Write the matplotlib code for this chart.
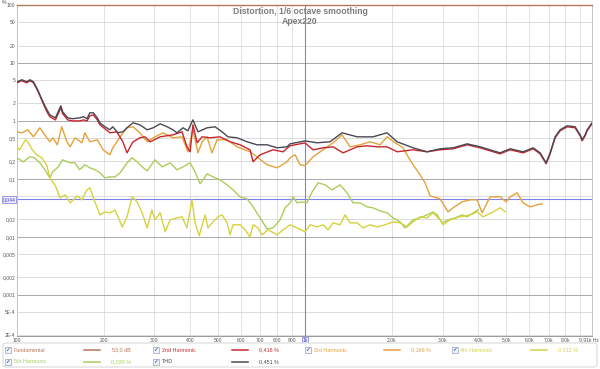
import matplotlib
matplotlib.use("Agg")
import matplotlib.pyplot as plt
import matplotlib.transforms as mtransforms
from matplotlib.patches import FancyBboxPatch, Rectangle
from matplotlib.lines import Line2D

plt.rcParams["font.family"] = ["Liberation Sans", "DejaVu Sans"]

# ── Data (frequency in Hz, distortion in % of fundamental) ───────────────────

fund_f = [100, 9910]
fund_v = [100.0, 100.0]

thd_f = [100, 104, 108, 111, 114, 118, 123, 127, 130, 136, 139, 142, 144, 150, 156, 165, 170, 175, 179, 184,
         190, 194, 202, 210, 215, 224, 233, 243, 253, 267, 283, 297, 314, 332, 348, 359, 377, 392, 408, 425,
         457, 487, 515, 540, 581, 629, 681, 738, 800, 866, 887, 1000, 1101, 1221, 1344, 1516, 1722, 1926, 2087, 2371,
         2652, 2943, 3265, 3652, 4052, 4754, 5150, 5714, 6190, 6546, 6868, 7091, 7380, 7681, 8124, 8659, 9013, 9158, 9381, 9532,
         9910]
thd_v = [4.73, 5.13, 4.73, 5.13, 4.73, 3.44, 2.14, 1.56, 1.27, 1.13, 1.44, 1.82, 1.44, 1.13, 1.09, 1.13, 1.18, 1.09, 1.38, 1.38,
         1.13, 0.927, 0.791, 0.702, 0.791, 0.623, 0.648, 0.791, 0.927, 0.856, 0.702, 0.760, 0.891, 0.791, 0.702, 0.623, 0.760, 0.675, 1.04, 0.648,
         0.760, 0.791, 0.648, 0.531, 0.511, 0.436, 0.387, 0.387, 0.343, 0.357, 0.402, 0.451, 0.419, 0.436, 0.623, 0.531, 0.531, 0.623, 0.436, 0.343,
         0.293, 0.330, 0.343, 0.402, 0.357, 0.281, 0.330, 0.293, 0.343, 0.281, 0.189, 0.281, 0.531, 0.702, 0.823, 0.791, 0.575, 0.472, 0.575, 0.702,
         0.927]

h2_f = [100, 104, 108, 111, 114, 118, 123, 127, 130, 136, 139, 142, 144, 150, 156, 165, 170, 175, 179, 184,
        190, 194, 202, 210, 222, 233, 241, 247, 253, 267, 278, 290, 314, 348, 374, 389, 399, 408, 422, 439,
        468, 507, 549, 595, 644, 660, 698, 774, 839, 887, 961, 1000, 1066, 1155, 1251, 1355, 1516, 1642, 1778, 1926,
        2087, 2371, 2652, 2943, 3265, 3652, 4052, 4754, 5150, 5714, 6190, 6546, 6868, 7091, 7380, 7681, 8124, 8659, 9013, 9158,
        9381, 9532, 9910]
h2_v = [4.55, 4.93, 4.55, 4.93, 4.55, 3.31, 2.05, 1.44, 1.18, 1.04, 1.33, 1.68, 1.33, 1.04, 1.00, 1.00, 1.04, 1.00, 1.22, 1.27,
        1.04, 0.856, 0.730, 0.623, 0.648, 0.436, 0.281, 0.357, 0.436, 0.511, 0.531, 0.436, 0.531, 0.575, 0.648, 0.357, 0.293, 0.856, 0.419, 0.531,
        0.511, 0.531, 0.436, 0.387, 0.317, 0.197, 0.260, 0.317, 0.293, 0.372, 0.402, 0.416, 0.317, 0.343, 0.357, 0.281, 0.357, 0.372, 0.357, 0.357,
        0.293, 0.317, 0.293, 0.317, 0.330, 0.387, 0.343, 0.270, 0.317, 0.281, 0.330, 0.270, 0.182, 0.270, 0.511, 0.675, 0.791, 0.760, 0.553, 0.453,
        0.553, 0.675, 0.891]

h3_f = [100, 104, 109, 114, 120, 127, 130, 133, 138, 143, 149, 153, 159, 168, 172, 179, 190, 199, 210, 215,
        228, 241, 253, 267, 283, 297, 321, 348, 374, 392, 408, 425, 439, 457, 475, 495, 536, 581, 644, 681,
        738, 800, 866, 887, 923, 961, 1000, 1066, 1155, 1251, 1344, 1433, 1552, 1682, 1822, 1926, 2054, 2189, 2279, 2371,
        2508, 2610, 2717, 2943, 3137, 3265, 3509, 3741, 3956, 4117, 4389, 4754, 4988, 5150, 5447, 5714, 6043, 6391, 6652]
h3_v = [0.648, 0.623, 0.702, 0.531, 0.760, 0.511, 0.436, 0.511, 0.387, 0.791, 0.436, 0.357, 0.511, 0.419, 0.623, 0.436, 0.472, 0.317, 0.260, 0.343,
        0.531, 0.760, 0.791, 0.623, 0.436, 0.511, 0.623, 0.511, 0.531, 0.293, 0.702, 0.281, 0.436, 0.531, 0.281, 0.472, 0.472, 0.357, 0.293, 0.240,
        0.175, 0.155, 0.197, 0.231, 0.260, 0.175, 0.169, 0.240, 0.317, 0.419, 0.575, 0.357, 0.387, 0.436, 0.387, 0.531, 0.419, 0.343, 0.240, 0.175,
        0.117, 0.0853, 0.0509, 0.0451, 0.0269, 0.0316, 0.0401, 0.0434, 0.0434, 0.0259, 0.0489, 0.0489, 0.0401, 0.0489, 0.0573, 0.0385, 0.0328, 0.0356, 0.0370]

h4_f = [100, 102, 107, 109, 113, 117, 122, 127, 130, 136, 141, 147, 153, 162, 168, 175, 179, 187, 194, 202,
        210, 219, 232, 241, 251, 261, 272, 283, 294, 301, 314, 327, 340, 359, 374, 389, 405, 415, 429, 450,
        460, 479, 499, 515, 536, 549, 562, 595, 619, 644, 660, 687, 709, 744, 800, 839, 887, 938, 1000, 1041,
        1101, 1155, 1202, 1251, 1323, 1377, 1433, 1516, 1590, 1682, 1778, 1896, 2021, 2137, 2260, 2371, 2508, 2652, 2783, 2943,
        3014, 3188, 3453, 3741, 3956, 4150, 4496, 4754, 4948]
h4_v = [0.357, 0.317, 0.472, 0.436, 0.317, 0.260, 0.231, 0.168, 0.104, 0.0757, 0.0470, 0.0529, 0.0385, 0.0509, 0.0434, 0.0646, 0.0699, 0.0385, 0.0239, 0.0269,
        0.0259, 0.0291, 0.0148, 0.0221, 0.0489, 0.0401, 0.0259, 0.0142, 0.0291, 0.0196, 0.0259, 0.0122, 0.0196, 0.0212, 0.0221, 0.0142, 0.0434, 0.0174, 0.0104, 0.0239,
        0.0142, 0.0181, 0.0221, 0.0239, 0.0174, 0.0108, 0.0161, 0.0161, 0.0132, 0.00996, 0.0161, 0.0142, 0.0108, 0.0132, 0.0108, 0.0132, 0.0161, 0.0142, 0.0122, 0.0161,
        0.0148, 0.0161, 0.0132, 0.0174, 0.0161, 0.0239, 0.0174, 0.0174, 0.0142, 0.0161, 0.0148, 0.0161, 0.0181, 0.0174, 0.0148, 0.0181, 0.0221, 0.0212, 0.0259, 0.0196,
        0.0161, 0.0196, 0.0221, 0.0239, 0.0269, 0.0221, 0.0269, 0.0316, 0.0269]

h5_f = [100, 105, 111, 115, 120, 125, 130, 133, 139, 144, 153, 159, 165, 172, 179, 187, 194, 202, 210, 219,
        228, 241, 251, 261, 272, 283, 301, 319, 340, 359, 377, 399, 415, 432, 457, 479, 507, 536, 562, 595,
        629, 660, 698, 738, 774, 819, 852, 887, 909, 938, 976, 1016, 1058, 1110, 1174, 1241, 1323, 1399, 1468, 1552,
        1642, 1722, 1822, 1926, 2021, 2137, 2224, 2371, 2508, 2652, 2783, 2873, 2990, 3137, 3318, 3509, 3652, 3831, 3988]
h5_v = [0.231, 0.197, 0.240, 0.231, 0.189, 0.143, 0.104, 0.132, 0.161, 0.213, 0.189, 0.189, 0.143, 0.175, 0.155, 0.143, 0.127, 0.104, 0.108, 0.108,
        0.127, 0.189, 0.231, 0.197, 0.161, 0.137, 0.213, 0.161, 0.189, 0.143, 0.161, 0.189, 0.132, 0.0820, 0.122, 0.108, 0.0961, 0.0788, 0.0646, 0.0489,
        0.0451, 0.0328, 0.0212, 0.0137, 0.0142, 0.0196, 0.0316, 0.0385, 0.0489, 0.0385, 0.0401, 0.0390, 0.0596, 0.0853, 0.0788, 0.0646, 0.0788, 0.0573, 0.0385, 0.0385,
        0.0328, 0.0316, 0.0280, 0.0259, 0.0212, 0.0181, 0.0142, 0.0196, 0.0212, 0.0239, 0.0269, 0.0239, 0.0174, 0.0196, 0.0212, 0.0239, 0.0221, 0.0259, 0.0291]

# legend entries: name, readout at cursor, colour
LEG_NAMES = ["Fundamental", "2nd Harmonic", "3rd Harmonic", "4th Harmonic", "5th Harmonic", "THD"]
LEG_VALUES = ["53,0 dB", "0,416 %", "0,169 %", "0,012 %", "0,039 %", "0,451 %"]
COLORS = ["#b5775a", "#c8262c", "#e4a23a", "#d6d23e", "#abcd5c", "#4a4852"]

Y_TICKS = [100, 50, 20, 10, 5, 2, 1, 0.5, 0.2, 0.1, 0.02, 0.01, 0.005, 0.002, 0.001, 5e-4, 2e-4]
Y_LABELS = ["100", "50", "20", "10", "5", "2", "1", "0,5", "0,2", "0,1", "0,02", "0,01",
            "0,005", "0,002", "0,001", "5E-4", "2E-4"]
X_TICKS = [100, 200, 300, 400, 500, 600, 700, 800, 900, 2000, 3000, 4000, 5000, 6000, 7000, 8000]
X_LABELS = ["100", "200", "300", "400", "500", "600", "700", "800", "900",
            "2,0k", "3,0k", "4,0k", "5,0k", "6,0k", "7,0k", "8,0k"]
CURSOR_F = 1000
CURSOR_V = 0.044

# ── Figure ───────────────────────────────────────────────────────────────────
W, H = 600, 369
fig = plt.figure(figsize=(W / 100, H / 100), dpi=100)
ax = fig.add_axes([17 / W, 1 - 336 / H, 575 / W, 331 / H])
ax.set_xscale("log")
ax.set_yscale("log")
ax.set_xlim(100, 9910)
ax.set_ylim(1.94e-4, 100)

# grid
for f in list(range(100, 1000, 100)) + list(range(1000, 10000, 1000)):
    ax.axvline(f, color="#dcdcdc", lw=0.6, zorder=0)
for v in [10, 1, 0.1, 0.01, 0.001]:
    ax.axhline(v, color="#a9a9a9", lw=0.7, zorder=0)
for v in [50, 20, 5, 2, 0.5, 0.2, 0.05, 0.02, 0.005, 0.002, 5e-4, 2e-4]:
    ax.axhline(v, color="#d6d6d6", lw=0.6, zorder=0)

# cursors
ax.axvline(CURSOR_F, color="#8080e6", lw=0.8, zorder=1)
ax.axhline(CURSOR_V, color="#8080e6", lw=0.8, zorder=1)

# curves
series = [(h5_f, h5_v, 4), (h4_f, h4_v, 3), (h3_f, h3_v, 2), (h2_f, h2_v, 1), (thd_f, thd_v, 5)]
for fx, vy, ci in series:
    ax.plot(fx, vy, color=COLORS[ci], lw=1.0, zorder=3)
ax.plot(fund_f, fund_v, color=COLORS[0], lw=1.0, zorder=4, clip_on=False)

ax.minorticks_off()
ax.set_yticks(Y_TICKS, Y_LABELS)
ax.set_xticks(X_TICKS, X_LABELS)
ax.tick_params(length=0, labelsize=3.6, colors="#555555", pad=1.2)
for s in ax.spines.values():
    s.set_color("#c4c4c4")
    s.set_linewidth(0.7)
ax.spines["bottom"].set_color("#9a9a9a")

# axis extras
fig.text(4 / W, 1 - 2 / H, "%", fontsize=3.8, color="#555555", ha="center", va="center")
ax.text(599 / W, 1.94e-4, "9,91k Hz", fontsize=3.6, color="#555555", ha="right", va="top",
        transform=mtransforms.offset_copy(
            mtransforms.blended_transform_factory(fig.transFigure, ax.transData),
            fig, y=-1.2, units="points"))
box = dict(boxstyle="square,pad=0.15", fc="#eef0ff", ec="#7474e0", lw=0.5)
ax.text(CURSOR_F, 1.94e-4, "1k", fontsize=3.6, color="#4040c0", ha="center", va="top", bbox=box,
        transform=mtransforms.offset_copy(ax.transData, fig, y=-1.2, units="points"))
ax.text(15.5 / W, CURSOR_V, "0,044", fontsize=3.6, color="#4040c0", ha="right", va="center", bbox=box,
        transform=mtransforms.blended_transform_factory(fig.transFigure, ax.transData))

# title
fig.text(0.5, 1 - 11 / H, "Distortion, 1/6 octave smoothing", fontsize=6.2, color="#7c7c7c",
         weight="bold", ha="center", va="center")
fig.text(0.5, 1 - 21 / H, "Apex220", fontsize=6.2, color="#7c7c7c", weight="bold",
         ha="center", va="center")

# legend panel
fig.patches.append(FancyBboxPatch((3 / W, 1 - 367 / H), 594 / W, 24 / H,
                                  boxstyle="round,pad=0,rounding_size=0.006",
                                  transform=fig.transFigure, fc="white", ec="#cfcfcf", lw=0.6))
col_x = [5, 153, 305, 452]
row_y = [350, 361.5]
for i, (name, val, col) in enumerate(zip(LEG_NAMES, LEG_VALUES, COLORS)):
    r, c = divmod(i, 4)
    x0, y0 = col_x[c], row_y[r]
    fig.patches.append(Rectangle((x0 / W, 1 - (y0 + 3) / H), 6 / W, 6 / H, transform=fig.transFigure,
                                 fc="#eef2fa", ec="#7d8cae", lw=0.4))
    fig.text((x0 + 3) / W, 1 - y0 / H, "\u2713", fontsize=4.2, color="#2b3f7a",
             ha="center", va="center", family="DejaVu Sans")
    fig.text((x0 + 8.5) / W, 1 - y0 / H, name, fontsize=3.9, color=col, ha="left", va="center")
    fig.lines.append(Line2D([(x0 + 79) / W, (x0 + 95) / W], [1 - y0 / H, 1 - y0 / H],
                            transform=fig.transFigure, color=col, lw=1.1))
    fig.text((x0 + 126) / W, 1 - y0 / H, val, fontsize=3.9, color=col, ha="right", va="center")

fig.savefig("out.png", dpi=100)
